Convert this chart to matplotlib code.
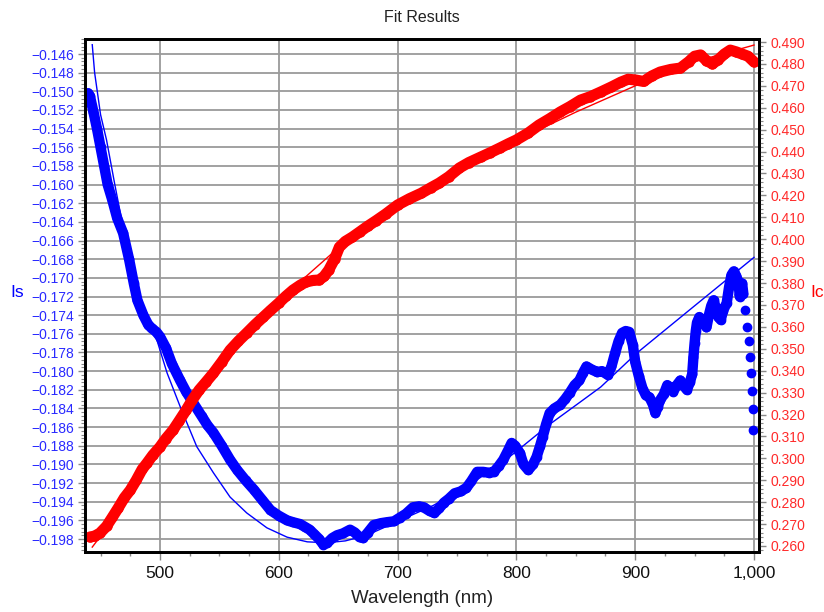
import matplotlib
matplotlib.use("Agg")
import matplotlib.pyplot as plt
from matplotlib.ticker import MultipleLocator, FuncFormatter

plt.rcParams['font.family'] = ['Liberation Sans', 'DejaVu Sans']

BLUE = '#0000ff'
RED = '#ff0000'

# Is data (left axis)
is_wl = [439.5, 441, 444, 447, 450, 453, 456, 460, 464, 469, 474, 478, 481, 486,
         490, 493, 497, 500, 505, 510, 517, 522, 528, 535, 540, 545, 552, 559,
         565, 572, 579, 586, 593, 600, 607, 612, 618, 622, 626, 630, 634, 637.5,
         641, 645, 649, 654, 660, 664, 668, 671, 675, 680, 686, 691, 697, 702,
         707, 713, 718, 722, 727, 731, 735, 739, 743, 748, 753, 758, 762, 767,
         772, 777, 781, 785, 789, 793, 796, 799, 803, 806, 810, 814, 817, 820,
         822, 825, 828, 832, 837, 841, 845, 849, 853, 856, 859, 863, 868, 872,
         877, 880, 883, 886, 889, 892, 895, 898, 900, 903, 906, 909, 912, 915,
         917, 919, 921, 924, 927, 930, 932, 935, 938, 941, 943.5, 946, 948, 949,
         950, 951, 952, 954, 956, 958, 960, 962, 964, 966, 968, 970, 972, 974,
         977, 979, 981, 983, 985, 987, 988, 989, 990, 991, 992.5, 994.5, 996,
         997, 997.8, 998.5, 999, 999.5]
is_val = [-0.1502, -0.1505, -0.1522, -0.1540, -0.1560, -0.1580, -0.1600, -0.1617,
          -0.1636, -0.1652, -0.1680, -0.1706, -0.1724, -0.1740, -0.1750, -0.1754,
          -0.1758, -0.1763, -0.1775, -0.1792, -0.1810, -0.1822, -0.1834, -0.1848,
          -0.1858, -0.1866, -0.1880, -0.1895, -0.1906, -0.1917, -0.1927, -0.1938,
          -0.1949, -0.1955, -0.1960, -0.1962, -0.1964, -0.1967, -0.1970, -0.1975,
          -0.1980, -0.1986, -0.1984, -0.1979, -0.1976, -0.1974, -0.1970, -0.1973,
          -0.1978, -0.1979, -0.1973, -0.1965, -0.1963, -0.1962, -0.1961, -0.1957,
          -0.1953, -0.1946, -0.1945, -0.1946, -0.1950, -0.1952, -0.1947, -0.1941,
          -0.1937, -0.1931, -0.1929, -0.1925, -0.1918, -0.1908, -0.1908, -0.1909,
          -0.1908, -0.1902, -0.1895, -0.1885, -0.1877, -0.1880, -0.1888, -0.1900,
          -0.1906, -0.1900, -0.1892, -0.1880, -0.1871, -0.1857, -0.1845, -0.1840,
          -0.1836, -0.1830, -0.1823, -0.1815, -0.1810, -0.1802, -0.1795, -0.1798,
          -0.1801, -0.1800, -0.1804, -0.1795, -0.1781, -0.1768, -0.1759, -0.1757,
          -0.1758, -0.1772, -0.1790, -0.1805, -0.1818, -0.1826, -0.1828, -0.1836,
          -0.1845, -0.1838, -0.1831, -0.1825, -0.1815, -0.1818, -0.1822, -0.1815,
          -0.1810, -0.1816, -0.1820, -0.1812, -0.1803, -0.1785, -0.1770, -0.1757,
          -0.1748, -0.1742, -0.1745, -0.1749, -0.1753, -0.1740, -0.1730, -0.1724,
          -0.1733, -0.1742, -0.1745, -0.1735, -0.1727, -0.1710, -0.1697, -0.1693,
          -0.1698, -0.1705, -0.1720, -0.1712, -0.1706, -0.1717, -0.1734, -0.1753,
          -0.1768, -0.1785, -0.1802, -0.1821, -0.1841, -0.1863]

# Is fit
is_fit_wl = [443, 445, 450, 455, 462, 469, 480, 490, 497.5, 506, 517, 531, 545,
             559, 573, 590, 607, 624, 640, 656, 674, 702, 730, 758, 786, 800,
             828, 856, 871, 901, 949, 1000]
is_fit_val = [-0.1450, -0.1480, -0.1525, -0.1552, -0.1600, -0.1646, -0.1715,
              -0.1748, -0.1767, -0.1802, -0.1838, -0.1881, -0.1909, -0.1935,
              -0.1952, -0.1968, -0.1978, -0.1983, -0.1984, -0.1982, -0.1976,
              -0.1960, -0.1944, -0.1924, -0.1900, -0.1886, -0.1857, -0.1831,
              -0.1817, -0.1781, -0.1731, -0.1678]

# Ic data (right axis)
ic_wl = [441, 445, 449.5, 455, 460, 465, 470, 475, 480, 485, 489, 494, 500, 505,
         511, 516, 522, 527, 533, 539, 545, 552, 559, 566, 573, 580, 587, 593,
         600, 606, 612, 618, 623, 629, 634, 638, 642, 647, 651, 656, 662, 668,
         675, 682, 690, 700, 710, 720, 728, 735, 743, 752, 760, 770, 778, 786,
         793, 800, 810, 819, 828, 837, 845, 854, 862, 871, 880, 888, 894, 900,
         907, 914, 921, 930, 938, 945, 950, 955, 960, 965, 970, 975, 980, 985,
         990, 995, 1000]
ic_val = [0.2641, 0.2645, 0.2659, 0.2690, 0.2732, 0.2775, 0.2820, 0.2855, 0.2900,
          0.2950, 0.2978, 0.3015, 0.3052, 0.3090, 0.3129, 0.3170, 0.3220, 0.3265,
          0.3312, 0.3350, 0.3389, 0.3440, 0.3494, 0.3535, 0.3572, 0.3610, 0.3645,
          0.3675, 0.3709, 0.3740, 0.3768, 0.3790, 0.3805, 0.3812, 0.3814, 0.3830,
          0.3859, 0.3910, 0.3964, 0.3990, 0.4010, 0.4033, 0.4060, 0.4085, 0.4115,
          0.4156, 0.4185, 0.4210, 0.4235, 0.4256, 0.4285, 0.4325, 0.4350, 0.4375,
          0.4395, 0.4416, 0.4435, 0.4453, 0.4485, 0.4521, 0.4550, 0.4581, 0.4605,
          0.4635, 0.4650, 0.4672, 0.4695, 0.4717, 0.4730, 0.4727, 0.4720, 0.4745,
          0.4763, 0.4775, 0.4781, 0.4810, 0.4835, 0.4841, 0.4815, 0.4800, 0.4820,
          0.4845, 0.4863, 0.4855, 0.4845, 0.4835, 0.4809]

# Ic fit
ic_fit_wl = [443, 450, 460, 480, 500, 520, 550, 600, 650, 700, 750, 800, 850,
             900, 950, 1000]
ic_fit_val = [0.2595, 0.2645, 0.2720, 0.2890, 0.3050, 0.3205, 0.3425, 0.3720,
              0.3960, 0.4150, 0.4310, 0.4450, 0.4580, 0.4700, 0.4810, 0.4886]


def minus_fmt(v, pos):
    return f'{v:.3f}'.replace('-', '\u2212')


fig = plt.figure(figsize=(8.24, 6.12), dpi=100)
ax = fig.add_axes([85 / 824, 60 / 612, 674 / 824, 513 / 612])
ax2 = ax.twinx()

# blue data drawn as a thick band of dots, the fit line on top of it
ax.plot(is_wl[:-8], is_val[:-8], color=BLUE, lw=7.5, solid_capstyle='round')
ax.plot(is_wl, is_val, 'o', color=BLUE, ms=6, mec=BLUE)
ax.plot(is_fit_wl, is_fit_val, color=BLUE, lw=1)

ax2.plot(ic_wl, ic_val, color=RED, lw=8, solid_capstyle='round')
ax2.plot(ic_wl, ic_val, 'o', color=RED, ms=6.5)
ax2.plot(ic_fit_wl, ic_fit_val, color=RED, lw=1)

ax.set_xlim(436.9, 1004.2)
ax.set_ylim(-0.19939, -0.14439)
ax2.set_ylim(0.25726, 0.49137)

ax.xaxis.set_major_locator(MultipleLocator(100))
ax.xaxis.set_minor_locator(MultipleLocator(25))
ax.xaxis.set_major_formatter(FuncFormatter(lambda v, p: f'{v:,.0f}'))
ax.yaxis.set_major_locator(MultipleLocator(0.002))
ax.yaxis.set_minor_locator(MultipleLocator(0.0004))
ax.yaxis.set_major_formatter(FuncFormatter(minus_fmt))
ax2.yaxis.set_major_locator(MultipleLocator(0.01))
ax2.yaxis.set_minor_locator(MultipleLocator(0.002))
ax2.yaxis.set_major_formatter(FuncFormatter(minus_fmt))

ax.grid(True, which='major', color='#9a9a9a', lw=1.3)
ax.set_axisbelow(True)

for a in (ax, ax2):
    for s in a.spines.values():
        s.set_linewidth(2)
        s.set_color('black')

ax.tick_params(axis='x', which='major', length=6, width=1, color='#888888',
               labelsize=12.5, labelcolor='#111111', pad=4)
ax.tick_params(axis='x', which='minor', length=3, width=1, color='#888888')
ax.tick_params(axis='y', which='major', length=5, width=1, color='#888888',
               labelsize=10, labelcolor='#2a2aff', pad=3)
ax.tick_params(axis='y', which='minor', length=3, width=0.8, color='#888888')
ax2.tick_params(axis='y', which='major', length=5, width=1, color='#888888',
                labelsize=10, labelcolor='#ff2a2a', pad=3)
ax2.tick_params(axis='y', which='minor', length=3, width=0.8, color='#888888')

ax.set_title('Fit Results', fontsize=11.5, color='#222222', pad=12)
ax.set_xlabel('Wavelength (nm)', fontsize=13.5, color='#222222')
ax.xaxis.set_label_coords(0.5, -0.075)
ax.set_ylabel('Is', color=BLUE, fontsize=12.5, rotation=0, va='center')
ax.yaxis.set_label_coords(-0.1, 0.505)
ax2.set_ylabel('Ic', color=RED, fontsize=12.5, rotation=0, va='center')
ax2.yaxis.set_label_coords(1.087, 0.505)

fig.savefig('out.png', dpi=100)
